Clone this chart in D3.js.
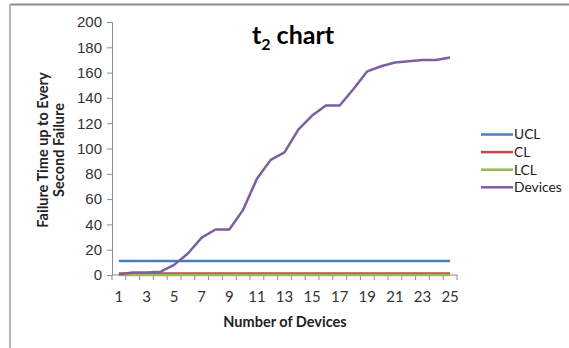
<!DOCTYPE html>
<html>
<head>
<meta charset="utf-8">
<script src="https://cdn.jsdelivr.net/npm/d3@7"></script>
<style>
  body { margin: 0; background: #fff; }
  svg { display: block; font-family: Lato, "Open Sans", "Noto Sans", sans-serif; }
</style>
</head>
<body>
<svg id="chart" width="569" height="348"></svg>
<script>
// Devices 1..25 on the category axis
const categories = d3.range(1, 26);
// Failure time up to every second failure
const devices = [0.5, 2, 2, 2.5, 8, 17, 29.5, 36, 36, 51.5, 76, 91, 97, 115, 126, 134, 134, 147, 161, 165, 168, 169, 170, 170, 172];
// Control limits
const ucl = 11;
const cl = 1.2;
const lcl = 0;
const yTicks = d3.range(0, 201, 20);
const xTickLabels = categories.filter(c => c % 2 === 1);

const series = [
  { name: "UCL", color: "#4a7ebb", values: categories.map(() => ucl) },
  { name: "CL", color: "#be4b48", values: categories.map(() => cl) },
  { name: "LCL", color: "#98b954", values: categories.map(() => lcl) },
  { name: "Devices", color: "#7d5fa0", values: devices }
];

const svg = d3.select("#chart");
const plot = { left: 112, right: 457, top: 22, bottom: 275 };

// Frame lines at the top and left
svg.append("line").attr("x1", 10).attr("x2", 569).attr("y1", 4.5).attr("y2", 4.5)
  .attr("stroke", "#8c8c8c").attr("stroke-width", 2);
svg.append("line").attr("x1", 10).attr("x2", 10).attr("y1", 4).attr("y2", 348)
  .attr("stroke", "#b8b8b8").attr("stroke-width", 2);

const x = d3.scaleBand().domain(categories).range([plot.left, plot.right]);
const y = d3.scaleLinear().domain([0, 200]).range([plot.bottom, plot.top]);
const cx = d => x(d) + x.bandwidth() / 2;

// Y axis
const yAxis = svg.append("g").attr("transform", `translate(${plot.left},0)`)
  .call(d3.axisLeft(y).tickValues(yTicks).tickSize(5).tickPadding(5));
yAxis.select(".domain").attr("stroke", "#8c8c8c");
yAxis.selectAll(".tick line").attr("stroke", "#8c8c8c");
yAxis.selectAll("text").attr("font-size", 15).attr("fill", "#333");

// X axis: ticks sit between categories, labels on odd devices
const xg = svg.append("g");
xg.append("line").attr("x1", plot.left).attr("x2", plot.right)
  .attr("y1", plot.bottom).attr("y2", plot.bottom).attr("stroke", "#8c8c8c");
const edges = categories.map(c => x(c)).concat([plot.right]);
xg.selectAll("line.tk").data(edges).join("line").attr("class", "tk")
  .attr("x1", d => d).attr("x2", d => d)
  .attr("y1", plot.bottom).attr("y2", plot.bottom + 5).attr("stroke", "#8c8c8c");
xg.selectAll("text").data(xTickLabels).join("text")
  .attr("x", d => cx(d)).attr("y", 302)
  .attr("text-anchor", "middle").attr("font-size", 15).attr("fill", "#333")
  .text(d => d);

// Series lines
const line = d3.line().x((d, i) => cx(categories[i])).y(d => y(d));
svg.selectAll("path.series").data(series).join("path").attr("class", "series")
  .attr("d", s => line(s.values))
  .attr("fill", "none").attr("stroke", s => s.color)
  .attr("stroke-width", 2.5).attr("stroke-linejoin", "round");

// Title with subscript
const title = svg.append("text").attr("x", 293).attr("y", 44)
  .attr("text-anchor", "middle").attr("font-size", 25).attr("font-weight", "bold").attr("fill", "#000");
title.append("tspan").text("t");
title.append("tspan").attr("font-size", 16).attr("dy", 6).text("2");
title.append("tspan").attr("dy", -6).text(" chart");

// Axis titles
svg.append("text").attr("x", 285).attr("y", 327).attr("text-anchor", "middle")
  .attr("font-size", 14.5).attr("font-weight", "bold").attr("fill", "#222").text("Number of Devices");
const yt = svg.append("text").attr("transform", "translate(48,150) rotate(-90)")
  .attr("text-anchor", "middle").attr("font-size", 14.5).attr("font-weight", "bold").attr("fill", "#222");
yt.append("tspan").attr("x", 0).attr("dy", 0).text("Failure Time up to Every");
yt.append("tspan").attr("x", 0).attr("dy", 16).text("Second Failure");

// Legend
const lg = svg.append("g").selectAll("g").data(series).join("g")
  .attr("transform", (d, i) => `translate(481,${134.5 + i * 17.6})`);
lg.append("line").attr("x1", 0).attr("x2", 32).attr("stroke", d => d.color).attr("stroke-width", 2.5);
lg.append("text").attr("x", 33).attr("dy", "0.35em").attr("font-size", 13.8).attr("fill", "#222").text(d => d.name);
</script>
</body>
</html>
